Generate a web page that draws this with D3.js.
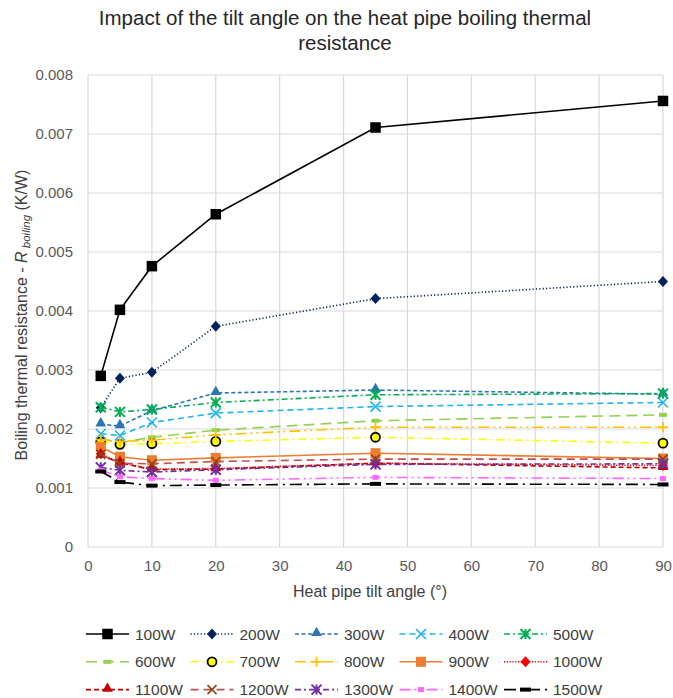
<!DOCTYPE html>
<html>
<head>
<meta charset="utf-8">
<script src="https://cdn.jsdelivr.net/npm/d3@7/dist/d3.min.js"></script>
<style>
  html, body { margin: 0; padding: 0; background: #fff; }
  svg { display: block; font-family: "Liberation Sans", Arial, sans-serif; }
</style>
</head>
<body>
<svg id="chart" width="673" height="698"></svg>
<script>
// Tilt angles (degrees) at which the boiling resistance was measured
const angles = [2, 5, 10, 20, 45, 90];
const xTicks = [0, 10, 20, 30, 40, 50, 60, 70, 80, 90];
const yTicks = [0, 0.001, 0.002, 0.003, 0.004, 0.005, 0.006, 0.007, 0.008];

// Boiling thermal resistance (K/W) per heat load
const r100W  = [0.00290, 0.00402, 0.00476, 0.00564, 0.00711, 0.00756];
const r200W  = [0.00236, 0.00286, 0.00296, 0.00374, 0.00421, 0.00450];
const r300W  = [0.00208, 0.00205, 0.00231, 0.00261, 0.00266, 0.00259];
const r400W  = [0.00192, 0.00189, 0.00211, 0.00227, 0.00238, 0.00245];
const r500W  = [0.00237, 0.00229, 0.00233, 0.00245, 0.00258, 0.00260];
const r600W  = [0.00183, 0.00177, 0.00186, 0.00198, 0.00214, 0.00224];
const r700W  = [0.00178, 0.00174, 0.00175, 0.00179, 0.00186, 0.00176];
const r800W  = [0.00182, 0.00179, 0.00181, 0.00190, 0.00203, 0.00203];
const r900W  = [0.00170, 0.00153, 0.00147, 0.00151, 0.00159, 0.00150];
const r1000W = [0.00158, 0.00143, 0.00132, 0.00133, 0.00142, 0.00138];
const r1100W = [0.00155, 0.00143, 0.00131, 0.00132, 0.00142, 0.00134];
const r1200W = [0.00157, 0.00142, 0.00141, 0.00145, 0.00149, 0.00149];
const r1300W = [0.00135, 0.00130, 0.00127, 0.00131, 0.00140, 0.00141];
const r1400W = [0.00130, 0.00119, 0.00116, 0.00113, 0.00118, 0.00116];
const r1500W = [0.00128, 0.00110, 0.00104, 0.00105, 0.00107, 0.00106];

const powerLabels = ["100W","200W","300W","400W","500W","600W","700W","800W",
                     "900W","1000W","1100W","1200W","1300W","1400W","1500W"];
const seriesValues = [r100W, r200W, r300W, r400W, r500W, r600W, r700W, r800W,
                      r900W, r1000W, r1100W, r1200W, r1300W, r1400W, r1500W];

// Line and marker styling for each heat load
const styles = [
  { color: "#000000", dash: null,            marker: "square",   size: 10.5, fill: "#000000", mstroke: "#000000" },
  { color: "#002060", dash: "1.2,2.2",       marker: "diamond",  size: 10, fill: "#002060", mstroke: "#002060" },
  { color: "#2e75b6", dash: "4,2.5",         marker: "triangle", size: 10, fill: "#2e75b6", mstroke: "#2e75b6" },
  { color: "#1fb4f0", dash: "6,4",           marker: "times",    size: 10, fill: "none",    mstroke: "#1fb4f0" },
  { color: "#00b050", dash: "6,3,2,3",       marker: "star",     size: 10, fill: "none",    mstroke: "#00b050" },
  { color: "#92d050", dash: "11,6",          marker: "bar",      size: 8,  fill: "#92d050", mstroke: "none" },
  { color: "#ffff00", dash: "8,4,2,4",       marker: "circle",   size: 10, fill: "#ffff00", mstroke: "#000000" },
  { color: "#ffc000", dash: "11,4,2,4,2,4",  marker: "plus",     size: 10, fill: "none",    mstroke: "#ffc000" },
  { color: "#ed7d31", dash: null,            marker: "square",   size: 10, fill: "#ed7d31", mstroke: "#ed7d31" },
  { color: "#ff0000", dash: "1.2,1.6",       marker: "diamond",  size: 10, fill: "#ff0000", mstroke: "#ff0000" },
  { color: "#c00000", dash: "5,3",           marker: "triangle", size: 10, fill: "#c00000", mstroke: "#c00000" },
  { color: "#c0504d", dash: "8,5",           marker: "times",    size: 9,  fill: "none",    mstroke: "#8b4513" },
  { color: "#7030a0", dash: "6,3,2,3",       marker: "star",     size: 10, fill: "none",    mstroke: "#7030a0" },
  { color: "#ff66ff", dash: "11,4,2,4,2,4",  marker: "smallbar", size: 6,  fill: "#ff66ff", mstroke: "none" },
  { color: "#000000", dash: "12,5,2,5",      marker: "bar",      size: 11, fill: "#000000", mstroke: "none" }
];

const svg = d3.select("#chart");

const x = d3.scaleLinear().domain([0, 90]).range([88, 663]);
const y = d3.scaleLinear().domain([0, 0.008]).range([547, 75]);

// Title
const title = svg.append("text")
  .attr("x", 345).attr("y", 25)
  .attr("text-anchor", "middle")
  .attr("font-size", 20.5).attr("fill", "#262626");
title.append("tspan").attr("x", 345).attr("dy", 0).text("Impact of the tilt angle on the heat pipe boiling thermal");
title.append("tspan").attr("x", 345).attr("dy", 24.5).text("resistance");

// Gridlines
const grid = svg.append("g");
grid.selectAll("line.h").data(yTicks).join("line")
  .attr("x1", x(0)).attr("x2", x(90))
  .attr("y1", d => y(d)).attr("y2", d => y(d))
  .attr("stroke", "#d9d9d9").attr("stroke-width", 1.2);
grid.selectAll("line.v").data(xTicks).join("line")
  .attr("x1", d => x(d)).attr("x2", d => x(d))
  .attr("y1", y(0)).attr("y2", y(0.008))
  .attr("stroke", "#d9d9d9").attr("stroke-width", 1.2);

// Axes (labels only; lines come from the grid)
const xAxis = svg.append("g").attr("transform", `translate(0,${y(0)})`)
  .call(d3.axisBottom(x).tickValues(xTicks).tickSize(0).tickPadding(13).tickFormat(d3.format("d")));
const yAxis = svg.append("g").attr("transform", `translate(${x(0)},0)`)
  .call(d3.axisLeft(y).tickValues(yTicks).tickSize(0).tickPadding(15)
        .tickFormat(d => d === 0 ? "0" : d3.format(".3f")(d)));
[xAxis, yAxis].forEach(a => {
  a.select(".domain").remove();
  a.selectAll("text").attr("font-size", 15).attr("fill", "#595959")
    .attr("font-family", "Liberation Sans, Arial, sans-serif");
});

// Axis titles
svg.append("text")
  .attr("x", 370).attr("y", 597)
  .attr("text-anchor", "middle").attr("font-size", 16).attr("fill", "#404040")
  .text("Heat pipe tilt angle (°)");

const yTitle = svg.append("text")
  .attr("transform", `translate(27,${y(0.004) + 4}) rotate(-90)`)
  .attr("text-anchor", "middle").attr("font-size", 16).attr("fill", "#404040");
yTitle.append("tspan").text("Boiling thermal resistance - ");
yTitle.append("tspan").attr("font-style", "italic").text("R");
yTitle.append("tspan").attr("font-style", "italic").attr("font-size", 11.5).attr("dy", 3).text(" boiling");
yTitle.append("tspan").attr("dy", -3).text(" (K/W)");

// Marker drawing
function drawMarker(g, st) {
  const s = st.size;
  const h = s / 2;
  switch (st.marker) {
    case "square":
      g.append("rect").attr("x", -h).attr("y", -h).attr("width", s).attr("height", s)
        .attr("fill", st.fill); break;
    case "diamond":
      g.append("path").attr("d", `M0,${-h - 0.5}L${h},0L0,${h + 0.5}L${-h},0Z`)
        .attr("fill", st.fill); break;
    case "triangle":
      g.append("path").attr("d", d3.symbol(d3.symbolTriangle, s * s * 0.5)())
        .attr("transform", "translate(0,-1)").attr("fill", st.fill); break;
    case "times":
      g.append("path").attr("d", `M${-h},${-h}L${h},${h}M${-h},${h}L${h},${-h}`)
        .attr("stroke", st.mstroke).attr("stroke-width", 1.6).attr("fill", "none"); break;
    case "star":
      g.append("path").attr("d", `M${-h},${-h}L${h},${h}M${-h},${h}L${h},${-h}M0,${-h}L0,${h}`)
        .attr("stroke", st.mstroke).attr("stroke-width", 2).attr("fill", "none"); break;
    case "plus":
      g.append("path").attr("d", `M${-h},0L${h},0M0,${-h}L0,${h}`)
        .attr("stroke", st.mstroke).attr("stroke-width", 1.8).attr("fill", "none"); break;
    case "circle":
      g.append("circle").attr("r", h - 0.5).attr("fill", st.fill)
        .attr("stroke", st.mstroke).attr("stroke-width", 1.8); break;
    case "bar":
      g.append("rect").attr("x", -h).attr("y", -2).attr("width", s).attr("height", 4)
        .attr("fill", st.fill); break;
    case "smallbar":
      g.append("rect").attr("x", -h).attr("y", -2.5).attr("width", s).attr("height", 5)
        .attr("fill", st.fill); break;
  }
}

// Series lines and markers
const line = d3.line().x(d => x(d[0])).y(d => y(d[1]));
const plot = svg.append("g");
seriesValues.forEach((vals, i) => {
  const st = styles[i];
  const pts = angles.map((a, j) => [a, vals[j]]);
  const g = plot.append("g");
  g.append("path").datum(pts)
    .attr("d", line).attr("fill", "none")
    .attr("stroke", st.color).attr("stroke-width", 1.6)
    .attr("stroke-dasharray", st.dash);
  pts.forEach(p => {
    const m = g.append("g").attr("transform", `translate(${x(p[0])},${y(p[1])})`);
    drawMarker(m, st);
  });
});

// Legend: 3 rows x 5 columns
const legend = svg.append("g");
powerLabels.forEach((lab, i) => {
  const st = styles[i];
  const col = i % 5, row = Math.floor(i / 5);
  const lx = 86 + col * 104.5, ly = 634 + row * 27.8;
  const item = legend.append("g").attr("transform", `translate(${lx},${ly})`);
  item.append("line").attr("x1", 0).attr("x2", 43).attr("y1", 0).attr("y2", 0)
    .attr("stroke", st.color).attr("stroke-width", 1.6).attr("stroke-dasharray", st.dash);
  const m = item.append("g").attr("transform", "translate(21.5,0)");
  drawMarker(m, st);
  item.append("text").attr("x", 49).attr("y", 5.5)
    .attr("font-size", 15.5).attr("fill", "#404040").text(lab);
});
</script>
</body>
</html>
